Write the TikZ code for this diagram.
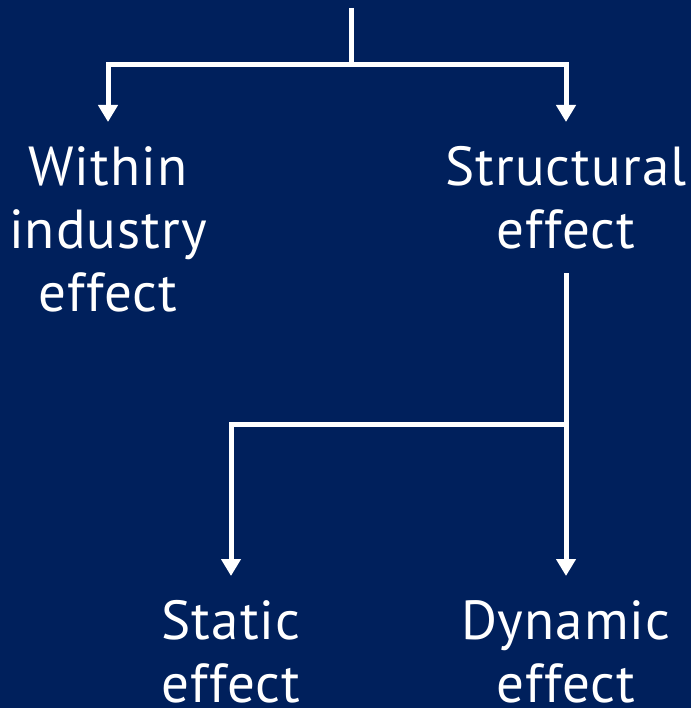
\documentclass[tikz,border=0pt]{standalone}
\usepackage{fontspec}
\setmainfont[LetterSpace=2]{PT Sans}
\usetikzlibrary{arrows.meta}
\definecolor{navybg}{RGB}{0,32,92}
\begin{document}
\begin{tikzpicture}[x=1pt,y=-1pt,
  lbl/.style={text=white, align=center, font=\fontsize{55}{63}\selectfont, inner xsep=0pt, inner ysep=24pt, anchor=north},
  conn/.style={draw=white, line width=5pt},
  arr/.style={conn, -{Triangle[width=19pt,length=17pt]}}]
\fill[navybg] (0,0) rectangle (691,708);
\useasboundingbox (0,0) rectangle (691,708);
\node[lbl] (within) at (108,122) {Within\\industry\\effect};
\node[lbl] (struct) at (566,122) {Structural\\effect};
\node[lbl] (static) at (231,576) {Static\\effect};
\node[lbl] (dynamic) at (566,576) {Dynamic\\effect};
\coordinate (top) at (351,8);
\coordinate (j1) at (351,65);
\coordinate (j2) at (566,424);
\draw[conn] (top) -- (j1);
\draw[arr] (j1) -| (within.north);
\draw[arr] (j1) -| (struct.north);
\draw[arr] (struct.south) -- (dynamic.north);
\draw[arr] (j2) -| (static.north);
\end{tikzpicture}
\end{document}
